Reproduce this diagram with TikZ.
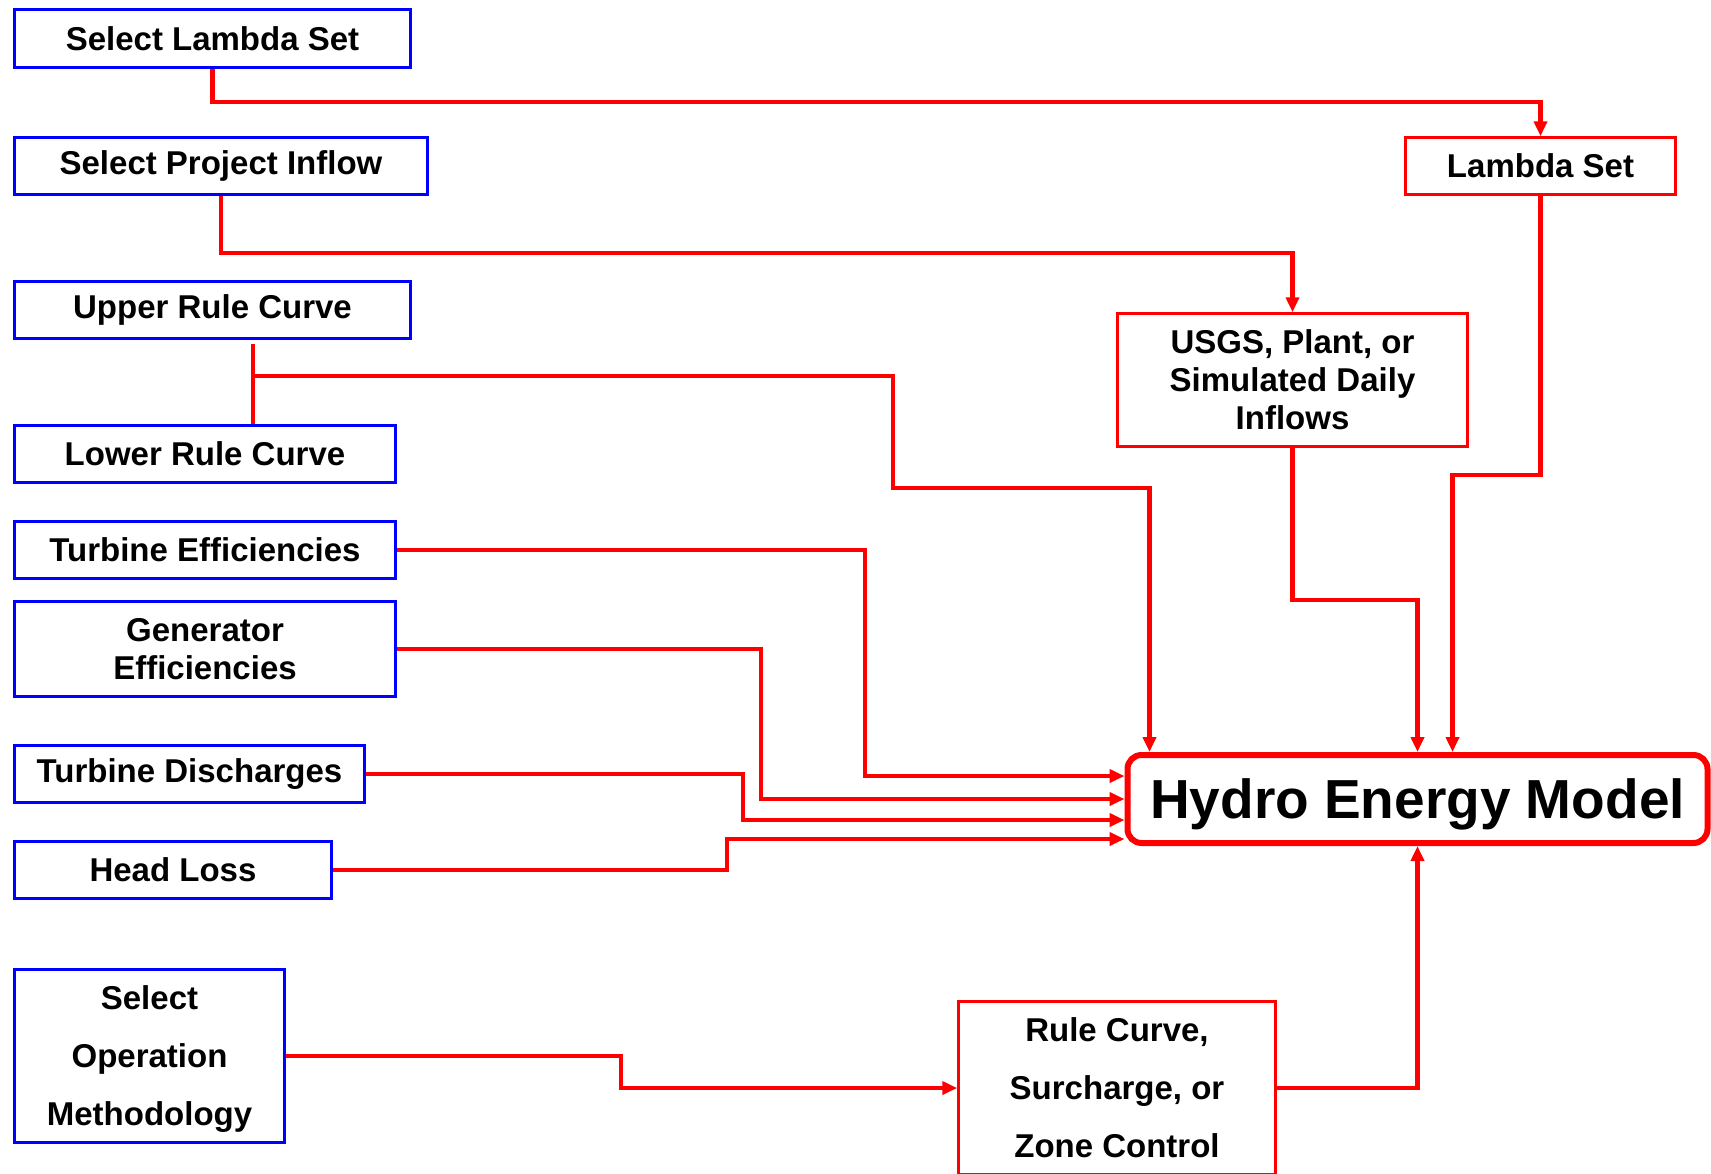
\documentclass[tikz,border=0pt]{standalone}
\usepackage{fontspec}
\setmainfont{Liberation Sans}
\usetikzlibrary{arrows.meta}

\begin{document}
\begin{tikzpicture}[x=1pt,y=-1pt,>={Triangle[length=15pt,width=13pt]},
  inbox/.style={draw=blue,line width=2.5pt,fill=white,inner sep=0pt,align=center,font=\fontsize{33}{38}\selectfont\bfseries},
  outbox/.style={inbox,draw=red},
  tall/.style={font=\fontsize{33}{58}\selectfont\bfseries},
  wire/.style={draw=red,line width=4.5pt}]
  \useasboundingbox[fill=white] (0,0) rectangle (1711,1173);

  \node[inbox,minimum width=396pt,minimum height=58pt] (lsel)  at (212.5,38.5) {Select Lambda Set};
  \node[inbox,minimum width=413pt,minimum height=57pt] (psel)  at (221,166)    {Select Project Inflow};
  \node[inbox,minimum width=396pt,minimum height=57pt] (urc)   at (212.5,310)  {Upper Rule Curve};
  \node[inbox,minimum width=381pt,minimum height=57pt] (lrc)   at (205,454)    {Lower Rule Curve};
  \node[inbox,minimum width=381pt,minimum height=57pt] (teff)  at (205,550)    {Turbine Efficiencies};
  \node[inbox,minimum width=381pt,minimum height=95pt] (geff)  at (205,649)    {Generator\\Efficiencies};
  \node[inbox,minimum width=350pt,minimum height=57pt] (tdis)  at (189.5,774)  {Turbine Discharges};
  \node[inbox,minimum width=317pt,minimum height=57pt] (hloss) at (173,870)    {Head Loss};
  \node[inbox,tall,minimum width=270pt,minimum height=173pt,text depth=0pt] (osel) at (149.5,1056) {Select\\Operation\\Methodology};

  \node[outbox,minimum width=270pt,minimum height=57pt]  (lset) at (1540.5,166) {Lambda Set};
  \node[outbox,minimum width=350pt,minimum height=133pt] (usgs) at (1292.5,380) {USGS, Plant, or\\Simulated Daily\\Inflows};
  \node[outbox,tall,minimum width=317pt,minimum height=173pt] (rc) at (1117,1088) {Rule Curve,\\Surcharge, or\\Zone Control};
  \node[outbox,line width=6pt,rounded corners=14pt,minimum width=580pt,minimum height=88pt,text depth=0pt,
        font=\fontsize{55}{60}\selectfont\bfseries] (hem) at (1417.5,799) {Hydro Energy Model};

  \coordinate (rcj) at (253,376);

  \draw[wire,->] (lsel.south) -- (lsel.south |- 0,102) -| (lset.north);
  \draw[wire,->] (psel.south) -- (psel.south |- 0,253) -| (usgs.north);
  \draw[wire] ([yshift=-4pt]urc.south -| rcj) -- (lrc.north -| rcj);
  \draw[wire,->] (rcj) -| (893,488) -| ([xshift=25pt]hem.north west);
  \draw[wire,->] (teff.east) -| (865,776) -- (hem.west |- 0,776);
  \draw[wire,->] (geff.east) -| (761,799) -- (hem.west);
  \draw[wire,->] (tdis.east) -| (743,820) -- (hem.west |- 0,820);
  \draw[wire,->] (hloss.east) -| (727,839) -- (hem.west |- 0,839);
  \draw[wire,->] (usgs.south) -- (usgs.south |- 0,600) -| (hem.north);
  \draw[wire,->] (lset.south) -- (lset.south |- 0,475) -| ([xshift=35pt]hem.north);
  \draw[wire,->] (osel.east) -| (621,1088) -- (rc.west);
  \draw[wire,->] (rc.east) -| (hem.south);
\end{tikzpicture}
\end{document}
